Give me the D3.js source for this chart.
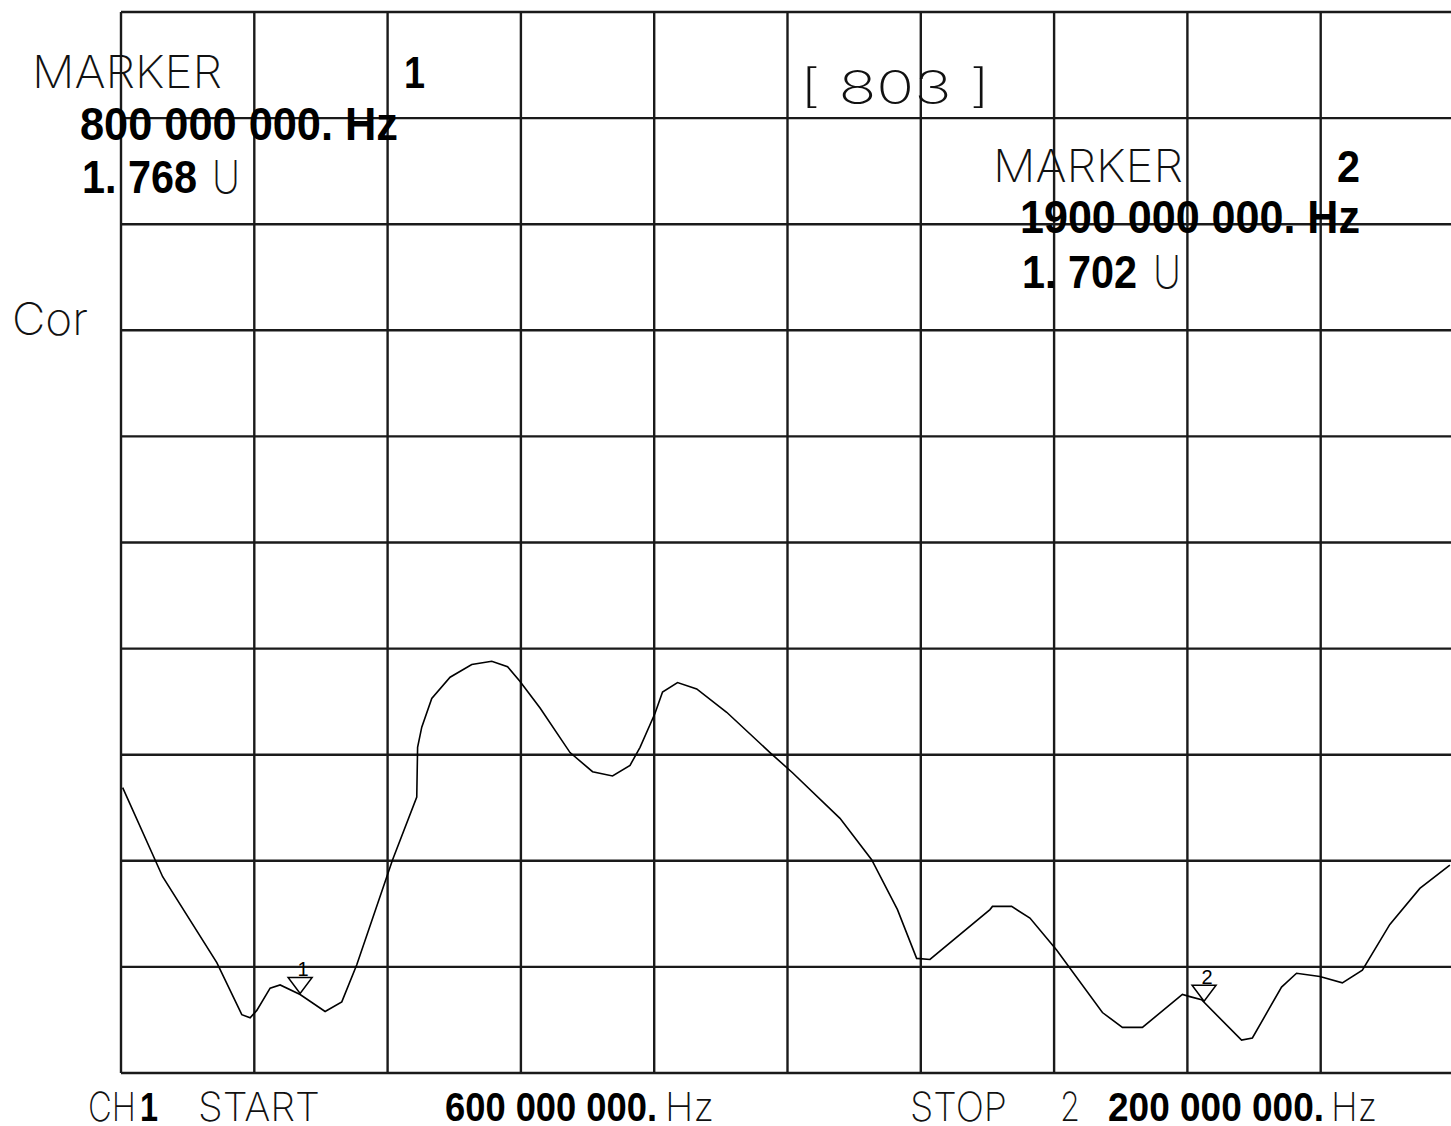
<!DOCTYPE html>
<html lang="en">
<head>
  <meta charset="UTF-8" />
  <title>CH1 Cor trace</title>
  <script src="https://d3js.org/d3.v7.min.js"></script>
  <style>
    body { margin: 0; background: #fff; }
    svg { display: block; }
    .grid { stroke: #1a1a1a; stroke-width: 2.4px; }
    .trace { fill: none; stroke: #000; stroke-width: 1.6px; }
    .mk { fill: none; stroke: #000; stroke-width: 1.5px; }
    .mkid { font-family: 'Liberation Sans', sans-serif; fill: #000; }
    .thin { font-family: 'Inter', 'DejaVu Sans', sans-serif; font-weight: 200; fill: #111; }
    .bold { font-family: 'Liberation Sans Narrow', 'Liberation Sans', sans-serif; font-weight: bold; fill: #000; }
  </style>
</head>
<body>
  <svg id="chart" width="1451" height="1126"></svg>

  <script>
    // sweep: 600 MHz -> 2200 MHz, 10 divisions
    const startHz = 600, stopHz = 2200;   // MHz
    const divisions = 10;

    // trace, frequency in MHz and value in grid divisions above the bottom line
    const freq = [602, 650, 715, 745, 755, 763, 779, 791, 815, 845, 865, 883, 926, 955, 956,
      961, 973, 995, 1021, 1045, 1064, 1079, 1103, 1139, 1166, 1190, 1211, 1223, 1241, 1250,
      1268, 1291, 1327, 1379, 1406, 1463, 1501, 1532, 1555, 1571, 1643, 1646, 1669, 1691, 1723,
      1778, 1802, 1826, 1874, 1883, 1897, 1945, 1958, 1993, 2011, 2039, 2066, 2090, 2123, 2159, 2195];
    const level = [2.69, 1.85, 1.04, 0.55, 0.52, 0.59, 0.80, 0.83, 0.74, 0.58, 0.67, 1.02, 2.01, 2.60, 3.07,
      3.26, 3.53, 3.73, 3.85, 3.88, 3.83, 3.69, 3.44, 3.02, 2.84, 2.80, 2.90, 3.07, 3.39, 3.59,
      3.68, 3.62, 3.40, 3.02, 2.83, 2.40, 2.01, 1.54, 1.08, 1.07, 1.54, 1.57, 1.57, 1.46, 1.16,
      0.57, 0.43, 0.43, 0.74, 0.72, 0.69, 0.31, 0.33, 0.81, 0.94, 0.91, 0.85, 0.97, 1.40, 1.74, 1.96];

    // markers: readout and where the triangle sits on the screen
    const markerIds = ["1", "2"];
    const markerReadHz = ["800 000 000. Hz", "1900 000 000. Hz"];
    const markerReadU = ["1. 768", "1. 702"];
    const markerPos = [815, 1900];   // MHz

    const svg = d3.select("#chart");
    const x = d3.scaleLinear().domain([startHz, stopHz]).range([121, 1454]);
    const y = d3.scaleLinear().domain([0, divisions]).range([1073, 12]);

    // grid
    const vTicks = d3.range(0, divisions + 1).map(i => startHz + i * (stopHz - startHz) / divisions);
    const hTicks = d3.range(0, divisions + 1);
    svg.append("g").selectAll("line").data(vTicks).enter().append("line")
      .attr("class", "grid")
      .attr("x1", d => x(d)).attr("x2", d => x(d))
      .attr("y1", y(divisions)).attr("y2", y(0));
    svg.append("g").selectAll("line").data(hTicks).enter().append("line")
      .attr("class", "grid")
      .attr("x1", x(startHz)).attr("x2", x(stopHz))
      .attr("y1", d => y(d)).attr("y2", d => y(d));

    // trace
    const pts = freq.map((f, i) => [f, level[i]]);
    const line = d3.line().x(d => x(d[0])).y(d => y(d[1]));
    svg.append("path").datum(pts).attr("class", "trace").attr("d", line);

    // marker triangles
    const levelAt = f => {
      const i = d3.bisectLeft(freq, f);
      if (i <= 0) return level[0];
      const t = (f - freq[i - 1]) / (freq[i] - freq[i - 1]);
      return level[i - 1] + t * (level[i] - level[i - 1]);
    };
    markerPos.forEach((f, i) => {
      const cx = x(f), cy = y(levelAt(f)) - 1;
      svg.append("path").attr("class", "mk")
        .attr("d", `M${cx},${cy} L${cx - 12},${cy - 16} L${cx + 12},${cy - 16} Z`);
      svg.append("text").attr("class", "mkid")
        .attr("x", cx + 3).attr("y", cy - 17)
        .attr("font-size", 20).attr("text-anchor", "middle")
        .text(markerIds[i]);
    });

    // text helper, width forced to what the screen shows
    function label(px, py, str, cls, size, len) {
      const t = svg.append("text").attr("class", cls)
        .attr("x", px).attr("y", py).attr("font-size", size).text(str);
      if (len) t.attr("textLength", len).attr("lengthAdjust", "spacingAndGlyphs");
      return t;
    }

    // marker 1 block
    label(32, 88, "MARKER", "thin", 45, 190);
    label(404, 88, markerIds[0], "bold", 45, 21).attr("font-family", "Liberation Sans");
    label(80, 140, markerReadHz[0], "bold", 46, 318);
    label(82, 193, markerReadU[0], "bold", 46, 115);
    label(212, 193, "U", "thin", 45, 28);

    label(12, 335, "Cor", "thin", 45, 76);
    label(800, 104, "[ 803 ]", "thin", 46, 190);

    // marker 2 block
    label(993, 182, "MARKER", "thin", 45, 190);
    label(1337, 182, markerIds[1], "bold", 45, 23).attr("font-family", "Liberation Sans");
    label(1020, 233, markerReadHz[1], "bold", 46, 340);
    label(1022, 288, markerReadU[1], "bold", 46, 115);
    label(1153, 288, "U", "thin", 45, 28);

    // footer
    label(88, 1121, "CH", "thin", 40, 48);
    label(140, 1121, "1", "bold", 40, 18).attr("font-family", "Liberation Sans");
    label(198, 1121, "START", "thin", 40, 122);
    label(445, 1121, "600 000 000.", "bold", 41, 212);
    label(665, 1121, "Hz", "thin", 40, 49);
    label(910, 1121, "STOP", "thin", 40, 97);
    label(1060, 1121, "2", "thin", 40, 20);
    label(1108, 1121, "200 000 000.", "bold", 41, 216);
    label(1331, 1121, "Hz", "thin", 40, 46);
  </script>
</body>
</html>
